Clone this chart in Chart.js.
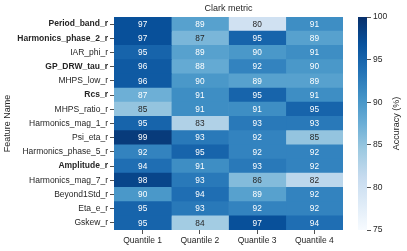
<!DOCTYPE html>
<html>
<head>
<meta charset="utf-8">
<script src="https://cdn.jsdelivr.net/npm/chart.js@4.4.0/dist/chart.umd.min.js"></script>
<style>
  html, body { margin: 0; padding: 0; background: #fff; }
  #wrap { position: relative; width: 407px; height: 251px; }
  #wrap canvas { position: absolute; left: 0; top: 0; }
</style>
</head>
<body>
<div id="wrap">
  <canvas id="heat" width="407" height="251" style="width:407px;height:251px"></canvas>
  <canvas id="cbar" width="407" height="251" style="width:407px;height:251px"></canvas>
</div>
<script>
// Dados
const features = [
  'Period_band_r', 'Harmonics_phase_2_r', 'IAR_phi_r', 'GP_DRW_tau_r', 'MHPS_low_r',
  'Rcs_r', 'MHPS_ratio_r', 'Harmonics_mag_1_r', 'Psi_eta_r', 'Harmonics_phase_5_r',
  'Amplitude_r', 'Harmonics_mag_7_r', 'Beyond1Std_r', 'Eta_e_r', 'Gskew_r'
];
const boldFeatures = ['Period_band_r', 'Harmonics_phase_2_r', 'GP_DRW_tau_r', 'Rcs_r', 'Amplitude_r'];
const quantiles = ['Quantile 1', 'Quantile 2', 'Quantile 3', 'Quantile 4'];
const quantile1 = [97, 97, 95, 96, 96, 87.4, 85, 95, 99, 92, 94, 98, 90, 95, 95];
const quantile2 = [89, 86.6, 89, 88, 90, 91, 91, 83, 93, 95, 91, 93, 94, 93, 84];
const quantile3 = [80, 95, 90, 92, 89, 95, 91, 93, 92, 92, 93, 86, 89, 92, 97];
const quantile4 = [91, 89, 91, 90, 89, 91, 95, 93, 85, 92, 92, 82, 92, 92, 94];
const colorMin = 75;
const colorMax = 100;
const colorTicks = [75, 80, 85, 90, 95, 100];

const series = [quantile1, quantile2, quantile3, quantile4];
const FONT = '"Liberation Sans", Arial, sans-serif';
const TXT = '#262626';

// Mapa de cores "Blues"
const bluesStops = [
  [247, 251, 255], [222, 235, 247], [198, 219, 239], [158, 202, 225], [107, 174, 214],
  [66, 146, 198], [33, 113, 181], [8, 81, 156], [8, 48, 107]
];
function bluesRgb(v) {
  let t = (v - colorMin) / (colorMax - colorMin);
  t = Math.max(0, Math.min(1, t));
  const p = t * (bluesStops.length - 1);
  const i = Math.min(Math.floor(p), bluesStops.length - 2);
  const f = p - i;
  const a = bluesStops[i], b = bluesStops[i + 1];
  return a.map((c, k) => Math.round(c + (b[k] - c) * f));
}
function blues(v) {
  const c = bluesRgb(v);
  return `rgb(${c[0]},${c[1]},${c[2]})`;
}
function textColor(v) {
  const lin = bluesRgb(v).map(c => {
    c /= 255;
    return c <= 0.03928 ? c / 12.92 : Math.pow((c + 0.055) / 1.055, 2.4);
  });
  const lum = 0.2126 * lin[0] + 0.7152 * lin[1] + 0.0722 * lin[2];
  return lum > 0.408 ? TXT : '#ffffff';
}

// Rótulos nas células + título
const cellLabels = {
  id: 'cellLabels',
  afterDatasetsDraw(chart) {
    const ctx = chart.ctx;
    ctx.save();
    ctx.font = `8.3px ${FONT}`;
    ctx.textAlign = 'center';
    ctx.textBaseline = 'middle';
    chart.data.datasets.forEach((ds, di) => {
      chart.getDatasetMeta(di).data.forEach((el, i) => {
        const v = ds.values[i];
        const p = el.getCenterPoint();
        ctx.fillStyle = textColor(v);
        ctx.fillText(v.toFixed(0), p.x, p.y + 0.5);
      });
    });
    const a = chart.chartArea;
    ctx.fillStyle = TXT;
    ctx.font = `9px ${FONT}`;
    ctx.fillText('Clark metric', (a.left + a.right) / 2, 9);
    ctx.restore();
  }
};

new Chart(document.getElementById('heat'), {
  type: 'bar',
  data: {
    labels: features,
    datasets: quantiles.map((q, i) => ({
      label: q,
      data: features.map(() => 1),
      values: series[i],
      backgroundColor: series[i].map(blues),
      borderWidth: 0,
      barPercentage: 1,
      categoryPercentage: 1
    }))
  },
  options: {
    indexAxis: 'y',
    responsive: false,
    animation: false,
    layout: { padding: { top: 17, right: 64, left: 0, bottom: 0 } },
    plugins: { legend: { display: false }, tooltip: { enabled: false } },
    scales: {
      x: {
        type: 'linear',
        stacked: true,
        min: 0,
        max: quantiles.length,
        afterBuildTicks: s => { s.ticks = quantiles.map((q, i) => ({ value: i + 0.5 })); },
        afterFit: s => { s.height = 21; },
        ticks: {
          callback: (v, i) => quantiles[i],
          font: { family: FONT, size: 8.5 },
          color: TXT,
          padding: 2,
          maxRotation: 0
        },
        grid: { drawOnChartArea: false, tickLength: 4, color: TXT, tickWidth: 0.8 },
        border: { display: false }
      },
      y: {
        stacked: true,
        afterFit: s => { s.width = 114; },
        ticks: {
          font: c => ({ family: FONT, size: 8.5, weight: boldFeatures.includes(features[c.index]) ? 'bold' : 'normal' }),
          color: TXT,
          padding: 2
        },
        grid: { offset: false, drawOnChartArea: false, tickLength: 4, color: TXT, tickWidth: 0.8 },
        border: { display: false },
        title: { display: true, text: 'Feature Name', color: TXT, font: { family: FONT, size: 9 }, padding: 2 }
      }
    }
  },
  plugins: [cellLabels]
});

// Barra de cores
const cbarTitle = {
  id: 'cbarTitle',
  afterDraw(chart) {
    const ctx = chart.ctx;
    const a = chart.chartArea;
    ctx.save();
    ctx.translate(397, (a.top + a.bottom) / 2);
    ctx.rotate(-Math.PI / 2);
    ctx.font = `9px ${FONT}`;
    ctx.fillStyle = TXT;
    ctx.textAlign = 'center';
    ctx.textBaseline = 'middle';
    ctx.fillText('Accuracy (%)', 0, 0);
    ctx.restore();
  }
};

new Chart(document.getElementById('cbar'), {
  type: 'bar',
  data: {
    labels: [''],
    datasets: [{
      data: [[colorMin, colorMax]],
      borderWidth: 0,
      barPercentage: 1,
      categoryPercentage: 1,
      backgroundColor: c => {
        const chart = c.chart;
        const a = chart.chartArea;
        if (!a || !isFinite(a.top) || !isFinite(a.bottom)) return blues(colorMax);
        const g = chart.ctx.createLinearGradient(0, a.bottom, 0, a.top);
        bluesStops.forEach((s, i) => g.addColorStop(i / (bluesStops.length - 1), `rgb(${s[0]},${s[1]},${s[2]})`));
        return g;
      }
    }]
  },
  options: {
    responsive: false,
    animation: false,
    layout: { padding: { top: 17, left: 358, bottom: 21, right: 0 } },
    plugins: { legend: { display: false }, tooltip: { enabled: false } },
    scales: {
      x: { display: false },
      y: {
        position: 'right',
        min: colorMin,
        max: colorMax,
        afterBuildTicks: s => { s.ticks = colorTicks.map(v => ({ value: v })); },
        afterFit: s => { s.width = 40; },
        ticks: { font: { family: FONT, size: 8.5 }, color: TXT, padding: 2 },
        grid: { drawOnChartArea: false, tickLength: 4, color: TXT, tickWidth: 0.8 },
        border: { display: false }
      }
    }
  },
  plugins: [cbarTitle]
});
</script>
</body>
</html>
